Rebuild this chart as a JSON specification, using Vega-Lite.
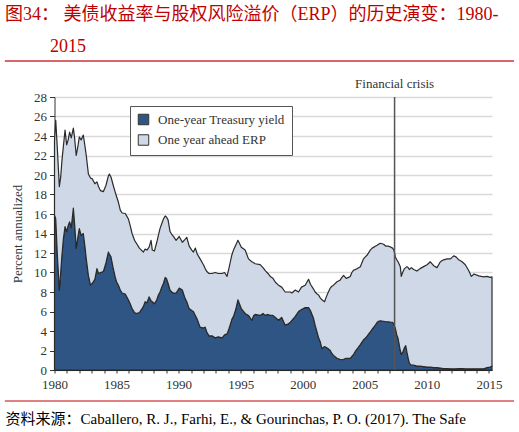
{
  "$schema": "https://vega.github.io/schema/vega-lite/v6.json",
  "width": 437.5,
  "height": 273,
  "autosize": "none",
  "padding": {"left": 54.5, "top": 97, "right": 27, "bottom": 62},
  "background": "white",
  "title": {
    "text": ["图34： 美债收益率与股权风险溢价（ERP）的历史演变：1980-", "\u200b\u00a0\u00a0\u00a0\u00a0\u00a0\u00a0\u00a0\u00a0\u00a0\u00a02015"],
    "anchor": "start",
    "frame": "group",
    "dx": -49.5,
    "font": "Liberation Serif, Noto Sans CJK SC",
    "fontSize": 18,
    "fontWeight": "normal",
    "color": "#c00000",
    "lineHeight": 32
  },
  "config": {
    "view": {"stroke": null},
    "axis": {
      "labelFont": "Liberation Serif",
      "labelFontSize": 13,
      "labelColor": "#333",
      "titleFont": "Liberation Serif",
      "titleFontWeight": "normal",
      "titleColor": "#333"
    }
  },
  "layer": [
    {
      "data": {
        "values": [
          {"year": 1980.00, "yield": 15.9, "erp": 7.6},
          {"year": 1980.10, "yield": 15.5, "erp": 10.1},
          {"year": 1980.23, "yield": 11.8, "erp": 10.9},
          {"year": 1980.39, "yield": 8.2, "erp": 10.6},
          {"year": 1980.50, "yield": 10.0, "erp": 9.8},
          {"year": 1980.60, "yield": 11.8, "erp": 9.7},
          {"year": 1980.72, "yield": 13.5, "erp": 9.5},
          {"year": 1980.85, "yield": 14.7, "erp": 9.9},
          {"year": 1980.98, "yield": 14.2, "erp": 8.9},
          {"year": 1981.10, "yield": 14.8, "erp": 8.8},
          {"year": 1981.22, "yield": 15.2, "erp": 9.2},
          {"year": 1981.35, "yield": 14.6, "erp": 9.2},
          {"year": 1981.52, "yield": 16.6, "erp": 8.2},
          {"year": 1981.62, "yield": 15.0, "erp": 8.8},
          {"year": 1981.75, "yield": 12.5, "erp": 9.5},
          {"year": 1981.88, "yield": 13.6, "erp": 9.3},
          {"year": 1982.00, "yield": 14.5, "erp": 9.4},
          {"year": 1982.15, "yield": 13.8, "erp": 9.8},
          {"year": 1982.32, "yield": 14.0, "erp": 10.1},
          {"year": 1982.45, "yield": 12.7, "erp": 10.3},
          {"year": 1982.56, "yield": 11.4, "erp": 10.6},
          {"year": 1982.73, "yield": 9.7, "erp": 10.4},
          {"year": 1982.90, "yield": 8.7, "erp": 11.0},
          {"year": 1983.05, "yield": 8.9, "erp": 10.7},
          {"year": 1983.25, "yield": 9.3, "erp": 9.8},
          {"year": 1983.42, "yield": 10.4, "erp": 8.9},
          {"year": 1983.55, "yield": 9.9, "erp": 8.9},
          {"year": 1983.70, "yield": 10.0, "erp": 8.4},
          {"year": 1983.94, "yield": 10.1, "erp": 8.2},
          {"year": 1984.15, "yield": 11.0, "erp": 7.95},
          {"year": 1984.34, "yield": 12.1, "erp": 7.8},
          {"year": 1984.42, "yield": 11.9, "erp": 8.2},
          {"year": 1984.55, "yield": 11.6, "erp": 8.2},
          {"year": 1984.72, "yield": 10.5, "erp": 8.5},
          {"year": 1984.88, "yield": 9.6, "erp": 8.7},
          {"year": 1985.00, "yield": 9.05, "erp": 8.75},
          {"year": 1985.15, "yield": 8.7, "erp": 8.5},
          {"year": 1985.30, "yield": 8.2, "erp": 8.2},
          {"year": 1985.45, "yield": 7.9, "erp": 8.2},
          {"year": 1985.70, "yield": 7.8, "erp": 8.25},
          {"year": 1985.95, "yield": 7.2, "erp": 8.3},
          {"year": 1986.10, "yield": 6.8, "erp": 8.0},
          {"year": 1986.25, "yield": 6.3, "erp": 7.7},
          {"year": 1986.45, "yield": 5.9, "erp": 7.4},
          {"year": 1986.60, "yield": 5.8, "erp": 7.2},
          {"year": 1986.84, "yield": 5.9, "erp": 6.6},
          {"year": 1987.00, "yield": 6.2, "erp": 6.1},
          {"year": 1987.16, "yield": 6.5, "erp": 5.6},
          {"year": 1987.30, "yield": 7.0, "erp": 5.4},
          {"year": 1987.45, "yield": 6.9, "erp": 5.4},
          {"year": 1987.62, "yield": 7.5, "erp": 5.1},
          {"year": 1987.78, "yield": 7.1, "erp": 6.2},
          {"year": 1987.88, "yield": 7.0, "erp": 5.3},
          {"year": 1988.05, "yield": 6.8, "erp": 5.4},
          {"year": 1988.24, "yield": 7.2, "erp": 5.9},
          {"year": 1988.37, "yield": 7.7, "erp": 6.1},
          {"year": 1988.50, "yield": 8.0, "erp": 6.5},
          {"year": 1988.64, "yield": 8.5, "erp": 6.5},
          {"year": 1988.78, "yield": 8.9, "erp": 6.6},
          {"year": 1988.92, "yield": 9.5, "erp": 6.3},
          {"year": 1989.02, "yield": 9.4, "erp": 6.3},
          {"year": 1989.15, "yield": 8.9, "erp": 6.5},
          {"year": 1989.31, "yield": 8.2, "erp": 6.0},
          {"year": 1989.45, "yield": 8.0, "erp": 5.9},
          {"year": 1989.58, "yield": 7.9, "erp": 5.8},
          {"year": 1989.80, "yield": 7.9, "erp": 5.4},
          {"year": 1990.05, "yield": 8.4, "erp": 5.3},
          {"year": 1990.30, "yield": 8.2, "erp": 4.9},
          {"year": 1990.52, "yield": 7.35, "erp": 6.05},
          {"year": 1990.66, "yield": 7.0, "erp": 6.6},
          {"year": 1990.85, "yield": 6.3, "erp": 6.4},
          {"year": 1991.06, "yield": 6.1, "erp": 6.2},
          {"year": 1991.19, "yield": 6.0, "erp": 6.1},
          {"year": 1991.35, "yield": 5.6, "erp": 6.9},
          {"year": 1991.50, "yield": 5.2, "erp": 6.7},
          {"year": 1991.73, "yield": 4.4, "erp": 7.0},
          {"year": 1992.00, "yield": 4.3, "erp": 6.5},
          {"year": 1992.14, "yield": 4.4, "erp": 6.0},
          {"year": 1992.27, "yield": 3.9, "erp": 6.2},
          {"year": 1992.45, "yield": 3.5, "erp": 6.4},
          {"year": 1992.70, "yield": 3.5, "erp": 6.4},
          {"year": 1992.94, "yield": 3.3, "erp": 6.7},
          {"year": 1993.20, "yield": 3.4, "erp": 6.5},
          {"year": 1993.50, "yield": 3.3, "erp": 6.6},
          {"year": 1993.70, "yield": 3.6, "erp": 6.4},
          {"year": 1993.90, "yield": 3.7, "erp": 5.9},
          {"year": 1994.05, "yield": 4.2, "erp": 6.2},
          {"year": 1994.15, "yield": 4.6, "erp": 6.4},
          {"year": 1994.29, "yield": 5.2, "erp": 6.6},
          {"year": 1994.42, "yield": 5.5, "erp": 6.8},
          {"year": 1994.60, "yield": 6.2, "erp": 6.6},
          {"year": 1994.78, "yield": 7.2, "erp": 6.1},
          {"year": 1994.90, "yield": 6.8, "erp": 6.2},
          {"year": 1995.05, "yield": 6.3, "erp": 6.3},
          {"year": 1995.36, "yield": 5.8, "erp": 6.5},
          {"year": 1995.63, "yield": 5.6, "erp": 5.8},
          {"year": 1995.90, "yield": 5.1, "erp": 6.0},
          {"year": 1996.05, "yield": 5.6, "erp": 5.4},
          {"year": 1996.17, "yield": 5.7, "erp": 5.2},
          {"year": 1996.57, "yield": 5.6, "erp": 5.2},
          {"year": 1996.80, "yield": 5.8, "erp": 4.7},
          {"year": 1996.98, "yield": 5.6, "erp": 4.6},
          {"year": 1997.20, "yield": 5.7, "erp": 4.2},
          {"year": 1997.38, "yield": 5.6, "erp": 4.0},
          {"year": 1997.60, "yield": 5.6, "erp": 3.8},
          {"year": 1997.80, "yield": 5.4, "erp": 3.6},
          {"year": 1998.05, "yield": 5.1, "erp": 3.6},
          {"year": 1998.30, "yield": 5.4, "erp": 3.1},
          {"year": 1998.59, "yield": 4.6, "erp": 3.4},
          {"year": 1998.80, "yield": 4.7, "erp": 3.3},
          {"year": 1999.00, "yield": 4.9, "erp": 3.1},
          {"year": 1999.13, "yield": 5.1, "erp": 2.8},
          {"year": 1999.40, "yield": 5.5, "erp": 2.7},
          {"year": 1999.66, "yield": 6.0, "erp": 2.0},
          {"year": 1999.90, "yield": 6.2, "erp": 2.3},
          {"year": 2000.20, "yield": 6.4, "erp": 2.3},
          {"year": 2000.47, "yield": 6.4, "erp": 2.9},
          {"year": 2000.62, "yield": 6.1, "erp": 2.7},
          {"year": 2000.87, "yield": 5.3, "erp": 3.0},
          {"year": 2001.00, "yield": 4.6, "erp": 3.4},
          {"year": 2001.15, "yield": 3.9, "erp": 3.9},
          {"year": 2001.28, "yield": 3.3, "erp": 4.4},
          {"year": 2001.41, "yield": 2.9, "erp": 4.5},
          {"year": 2001.55, "yield": 2.2, "erp": 5.0},
          {"year": 2001.76, "yield": 2.4, "erp": 4.6},
          {"year": 2001.90, "yield": 2.3, "erp": 5.2},
          {"year": 2002.03, "yield": 2.2, "erp": 5.7},
          {"year": 2002.22, "yield": 2.0, "erp": 6.4},
          {"year": 2002.35, "yield": 1.7, "erp": 6.9},
          {"year": 2002.48, "yield": 1.5, "erp": 7.2},
          {"year": 2002.76, "yield": 1.2, "erp": 7.85},
          {"year": 2003.00, "yield": 1.1, "erp": 8.1},
          {"year": 2003.16, "yield": 1.05, "erp": 8.45},
          {"year": 2003.29, "yield": 1.1, "erp": 8.6},
          {"year": 2003.50, "yield": 1.2, "erp": 8.2},
          {"year": 2003.69, "yield": 1.2, "erp": 8.3},
          {"year": 2003.83, "yield": 1.2, "erp": 8.4},
          {"year": 2003.96, "yield": 1.4, "erp": 8.6},
          {"year": 2004.10, "yield": 1.6, "erp": 8.65},
          {"year": 2004.23, "yield": 1.9, "erp": 8.4},
          {"year": 2004.40, "yield": 2.2, "erp": 8.2},
          {"year": 2004.64, "yield": 2.6, "erp": 8.0},
          {"year": 2004.90, "yield": 3.1, "erp": 8.3},
          {"year": 2005.04, "yield": 3.25, "erp": 8.35},
          {"year": 2005.20, "yield": 3.5, "erp": 8.3},
          {"year": 2005.44, "yield": 3.9, "erp": 8.4},
          {"year": 2005.60, "yield": 4.2, "erp": 8.3},
          {"year": 2005.85, "yield": 4.6, "erp": 8.1},
          {"year": 2006.00, "yield": 4.9, "erp": 7.9},
          {"year": 2006.11, "yield": 5.0, "erp": 7.9},
          {"year": 2006.25, "yield": 5.05, "erp": 7.95},
          {"year": 2006.52, "yield": 5.0, "erp": 7.9},
          {"year": 2006.70, "yield": 4.95, "erp": 7.75},
          {"year": 2006.92, "yield": 4.95, "erp": 7.75},
          {"year": 2007.10, "yield": 4.9, "erp": 7.7},
          {"year": 2007.24, "yield": 4.9, "erp": 7.6},
          {"year": 2007.35, "yield": 4.7, "erp": 7.6},
          {"year": 2007.46, "yield": 4.3, "erp": 7.3},
          {"year": 2007.58, "yield": 3.6, "erp": 7.7},
          {"year": 2007.68, "yield": 3.25, "erp": 7.85},
          {"year": 2007.86, "yield": 2.0, "erp": 8.6},
          {"year": 2007.94, "yield": 1.6, "erp": 8.0},
          {"year": 2008.05, "yield": 1.8, "erp": 8.2},
          {"year": 2008.20, "yield": 2.3, "erp": 8.1},
          {"year": 2008.30, "yield": 2.5, "erp": 8.0},
          {"year": 2008.40, "yield": 1.8, "erp": 8.8},
          {"year": 2008.50, "yield": 1.2, "erp": 9.3},
          {"year": 2008.59, "yield": 0.7, "erp": 9.6},
          {"year": 2008.75, "yield": 0.5, "erp": 10.0},
          {"year": 2008.94, "yield": 0.5, "erp": 9.8},
          {"year": 2009.20, "yield": 0.4, "erp": 9.75},
          {"year": 2009.45, "yield": 0.4, "erp": 10.0},
          {"year": 2009.74, "yield": 0.35, "erp": 10.25},
          {"year": 2010.02, "yield": 0.3, "erp": 10.5},
          {"year": 2010.28, "yield": 0.3, "erp": 10.8},
          {"year": 2010.55, "yield": 0.25, "erp": 10.45},
          {"year": 2010.82, "yield": 0.25, "erp": 10.25},
          {"year": 2011.09, "yield": 0.2, "erp": 10.9},
          {"year": 2011.35, "yield": 0.15, "erp": 11.15},
          {"year": 2011.63, "yield": 0.15, "erp": 11.25},
          {"year": 2011.90, "yield": 0.12, "erp": 11.28},
          {"year": 2012.16, "yield": 0.12, "erp": 11.58},
          {"year": 2012.35, "yield": 0.12, "erp": 11.48},
          {"year": 2012.57, "yield": 0.15, "erp": 11.15},
          {"year": 2012.84, "yield": 0.15, "erp": 10.95},
          {"year": 2013.10, "yield": 0.12, "erp": 10.68},
          {"year": 2013.37, "yield": 0.12, "erp": 10.08},
          {"year": 2013.59, "yield": 0.12, "erp": 9.48},
          {"year": 2013.80, "yield": 0.12, "erp": 9.73},
          {"year": 2014.18, "yield": 0.12, "erp": 9.53},
          {"year": 2014.58, "yield": 0.12, "erp": 9.43},
          {"year": 2014.85, "yield": 0.25, "erp": 9.35},
          {"year": 2015.10, "yield": 0.3, "erp": 9.2},
          {"year": 2015.25, "yield": 0.4, "erp": 9.15}
        ]
      },
      "transform": [{"fold": ["yield", "erp"], "as": ["series", "value"]}],
      "mark": {"type": "area", "stroke": "#2a2a2a", "strokeWidth": 1.2, "strokeJoin": "round"},
      "encoding": {
        "x": {
          "field": "year",
          "type": "quantitative",
          "scale": {"domain": [1980, 2015.25], "nice": false, "zero": false},
          "axis": {
            "values": [1980, 1981, 1982, 1983, 1984, 1985, 1986, 1987, 1988, 1989, 1990, 1991, 1992, 1993, 1994, 1995, 1996, 1997, 1998, 1999, 2000, 2001, 2002, 2003, 2004, 2005, 2006, 2007, 2008, 2009, 2010, 2011, 2012, 2013, 2014, 2015],
            "tickCount": 100,
            "format": "d",
            "labelExpr": "datum.value % 5 === 0 ? datum.label : ''",
            "labelOverlap": false,
            "labelBound": false,
            "labelFlush": false,
            "grid": false,
            "tickSize": 3,
            "tickColor": "#333",
            "domainColor": "#222",
            "labelPadding": 5,
            "title": "资料来源：Caballero, R. J., Farhi, E., & Gourinchas, P. O. (2017). The Safe",
            "titleFont": "Liberation Serif, Noto Sans CJK SC",
            "titleFontSize": 15,
            "titleColor": "#000",
            "titleAnchor": "start",
            "titleAlign": "left",
            "titleBaseline": "alphabetic",
            "titleX": -49.5,
            "titleY": 53
          }
        },
        "y": {
          "field": "value",
          "type": "quantitative",
          "stack": "zero",
          "scale": {"domain": [0, 28], "nice": false},
          "axis": {
            "values": [0, 2, 4, 6, 8, 10, 12, 14, 16, 18, 20, 22, 24, 26, 28],
            "tickCount": 100,
            "format": "d",
            "labelOverlap": false,
            "gridColor": "#d9d9d9",
            "gridWidth": 1.5,
            "domainColor": "#333",
            "tickColor": "#333",
            "tickSize": 5,
            "labelPadding": 3,
            "title": "Percent annualized",
            "titleFontSize": 13,
            "titlePadding": 9
          }
        },
        "color": {
          "field": "series",
          "type": "nominal",
          "scale": {"domain": ["yield", "erp"], "range": ["#2f5584", "#cfd8e6"]},
          "legend": {
            "orient": "none",
            "legendX": 75.5,
            "legendY": 9,
            "title": null,
            "direction": "vertical",
            "fillColor": "white",
            "strokeColor": "#555",
            "padding": 7,
            "rowPadding": 5.5,
            "symbolType": "square",
            "symbolSize": 110,
            "symbolStrokeColor": "#333",
            "symbolStrokeWidth": 1,
            "symbolOpacity": 1,
            "labelFont": "Liberation Serif",
            "labelFontSize": 13,
            "labelColor": "#333",
            "labelOffset": 8,
            "labelExpr": "datum.value === 'yield' ? 'One-year Treasury yield' : 'One year ahead ERP'"
          }
        },
        "order": {"field": "series", "sort": "descending"}
      }
    },
    {
      "data": {"values": [{}]},
      "mark": {"type": "rule", "color": "#555", "strokeWidth": 1.5},
      "encoding": {"x": {"datum": 2007.4}}
    },
    {
      "data": {"values": [{}]},
      "mark": {"type": "text", "text": "Financial crisis", "font": "Liberation Serif", "fontSize": 13, "color": "#333", "baseline": "alphabetic", "dy": -9},
      "encoding": {"x": {"datum": 2007.4}, "y": {"datum": 28}}
    },
    {
      "data": {"values": [{}]},
      "mark": {"type": "rule", "color": "#d9666a", "strokeWidth": 2},
      "encoding": {"x": {"datum": 1976.0}, "x2": {"datum": 2017.03}, "y": {"datum": 31.69}}
    },
    {
      "data": {"values": [{}]},
      "mark": {"type": "rule", "color": "#c00000", "strokeWidth": 1},
      "encoding": {"x": {"datum": 1976.0}, "x2": {"datum": 2017.03}, "y": {"datum": -3.18}}
    }
  ]
}
